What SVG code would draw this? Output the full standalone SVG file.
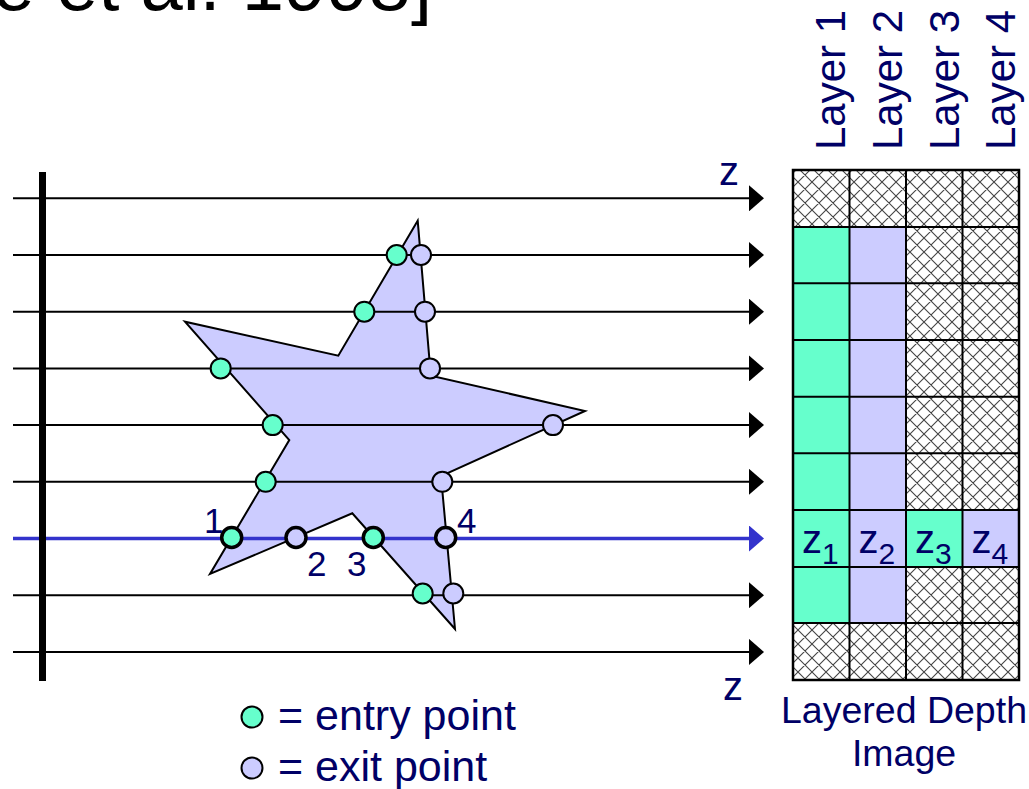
<svg xmlns="http://www.w3.org/2000/svg" width="1029" height="789" viewBox="0 0 1029 789">
  <style>
    .lbl { font-family: "Liberation Sans", Arial, sans-serif; fill: #000066; }
    .ray { stroke: #000; stroke-width: 2; fill: none; }
    .ray-blue { stroke: #3333CC; stroke-width: 3.5; fill: none; }
    .entry { fill: #66FFCC; stroke: #000; stroke-width: 2; }
    .exit { fill: #CCCCFF; stroke: #000; stroke-width: 2; }
    .hit { stroke-width: 3.5; }
    .c-entry { fill: #66FFCC; }
    .c-exit { fill: #CCCCFF; }
    .c-empty { fill: url(#hatch); }
    .gridline { stroke: #000; stroke-width: 2; fill: none; }
  </style>
  <defs>
    <pattern id="hatch" patternUnits="userSpaceOnUse" width="14" height="14">
      <rect width="14" height="14" fill="#fff"/>
      <path d="M0 0L14 14M14 0L0 14M-1 1L1 -1M13 15L15 13M-1 13L1 15M13 -1L15 1" stroke="#444" stroke-width="1.1"/>
    </pattern>
    <marker id="arrow" markerUnits="userSpaceOnUse" markerWidth="16" markerHeight="26" refX="1" refY="13" orient="auto">
      <path d="M0 0L15 13L0 26Z" fill="#000"/>
    </marker>
    <marker id="arrow-blue" markerUnits="userSpaceOnUse" markerWidth="16" markerHeight="26" refX="1" refY="13" orient="auto">
      <path d="M0 0L15 13L0 26Z" fill="#3333CC"/>
    </marker>
  </defs>
  <rect width="1029" height="789" fill="#fff"/>

  <!-- title, running off the left edge -->
  <text id="title" x="432" y="10" text-anchor="end" font-family="Liberation Sans, Arial, sans-serif" font-size="76" fill="#000">[Shade et al. 1998]</text>

  <!-- object being sampled -->
  <g id="star">
    <polygon points="417.7,220.7 430.8,375.7 585,411 441,476 455,629 352.3,513.3 210,574 289.3,440 185,321.7 338.3,355.7" fill="#CCCCFF" stroke="#000" stroke-width="2" stroke-linejoin="miter"/>
  </g>

  <!-- viewing rays -->
  <g id="rays">
    <line class="ray" x1="13" y1="198.3" x2="750" y2="198.3" marker-end="url(#arrow)"/>
    <line class="ray" x1="13" y1="255" x2="750" y2="255" marker-end="url(#arrow)"/>
    <line class="ray" x1="13" y1="311.7" x2="750" y2="311.7" marker-end="url(#arrow)"/>
    <line class="ray" x1="13" y1="368.4" x2="750" y2="368.4" marker-end="url(#arrow)"/>
    <line class="ray" x1="13" y1="425.1" x2="750" y2="425.1" marker-end="url(#arrow)"/>
    <line class="ray" x1="13" y1="481.8" x2="750" y2="481.8" marker-end="url(#arrow)"/>
    <line class="ray-blue" x1="13" y1="538.5" x2="750" y2="538.5" marker-end="url(#arrow-blue)"/>
    <line class="ray" x1="13" y1="595.2" x2="750" y2="595.2" marker-end="url(#arrow)"/>
    <line class="ray" x1="13" y1="651.9" x2="750" y2="651.9" marker-end="url(#arrow)"/>
  </g>

  <!-- image plane -->
  <g id="image-plane">
    <rect x="39" y="172" width="7" height="509" fill="#000"/>
  </g>

  <!-- surface crossings -->
  <g id="crossings">
    <circle class="entry" cx="396.7" cy="255" r="10"/>
    <circle class="exit" cx="421" cy="255" r="10"/>
    <circle class="entry" cx="364.3" cy="311.7" r="10"/>
    <circle class="exit" cx="425" cy="311.7" r="10"/>
    <circle class="entry" cx="220.7" cy="368.4" r="10"/>
    <circle class="exit" cx="430" cy="368.4" r="10"/>
    <circle class="entry" cx="272.7" cy="425.1" r="10"/>
    <circle class="exit" cx="553" cy="425.1" r="10"/>
    <circle class="entry" cx="265.7" cy="481.8" r="10"/>
    <circle class="exit" cx="442.3" cy="481.8" r="10"/>
    <circle class="entry hit" cx="231.7" cy="537.5" r="10"/>
    <circle class="exit hit" cx="296" cy="537.5" r="10"/>
    <circle class="entry hit" cx="373.3" cy="537.5" r="10"/>
    <circle class="exit hit" cx="445.7" cy="537.5" r="10"/>
    <circle class="entry" cx="422.7" cy="593.5" r="10"/>
    <circle class="exit" cx="453.3" cy="593.5" r="10"/>
  </g>

  <g id="hit-numbers" class="lbl" font-size="35">
    <text x="204" y="533">1</text>
    <text x="307" y="576">2</text>
    <text x="347" y="576">3</text>
    <text x="457" y="533">4</text>
  </g>

  <g id="z-axis-labels" class="lbl" font-size="40">
    <text x="719" y="185">z</text>
    <text x="723" y="700">z</text>
  </g>

  <!-- layered depth image -->
  <g id="ldi">
    <g id="ldi-cells">
      <rect class="c-empty" x="793" y="170" width="226" height="57"/>
      <rect class="c-entry" x="793" y="227" width="56.5" height="396"/>
      <rect class="c-exit" x="849.5" y="227" width="56.5" height="396"/>
      <rect class="c-empty" x="906" y="227" width="113" height="283"/>
      <rect class="c-entry" x="906" y="510" width="56.5" height="57"/>
      <rect class="c-exit" x="962.5" y="510" width="56.5" height="57"/>
      <rect class="c-empty" x="906" y="567" width="113" height="56"/>
      <rect class="c-empty" x="793" y="623" width="226" height="57"/>
    </g>
    <path class="gridline" d="M849.5 170V680M906 170V680M962.5 170V680M793 227H1019M793 283.3H1019M793 340H1019M793 396.7H1019M793 453.3H1019M793 510H1019M793 567H1019M793 623H1019"/>
    <rect x="793" y="170" width="226" height="510" fill="none" stroke="#000" stroke-width="2.5"/>
    <g id="ldi-depths" class="lbl" font-size="40">
      <text x="802" y="553">z<tspan font-size="30" dy="11">1</tspan></text>
      <text x="858.5" y="553">z<tspan font-size="30" dy="11">2</tspan></text>
      <text x="915" y="553">z<tspan font-size="30" dy="11">3</tspan></text>
      <text x="971.5" y="553">z<tspan font-size="30" dy="11">4</tspan></text>
    </g>
  </g>

  <g id="layer-labels" class="lbl" font-size="42">
    <text transform="translate(845,150) rotate(-90)">Layer 1</text>
    <text transform="translate(902,150) rotate(-90)">Layer 2</text>
    <text transform="translate(958.5,150) rotate(-90)">Layer 3</text>
    <text transform="translate(1015,150) rotate(-90)">Layer 4</text>
  </g>

  <g id="ldi-caption" class="lbl" font-size="37.5" text-anchor="middle">
    <text x="904" y="723">Layered Depth</text>
    <text x="904" y="766">Image</text>
  </g>

  <!-- legend -->
  <g id="legend">
    <circle class="entry" cx="252" cy="717" r="10.5"/>
    <text class="lbl" x="278" y="730" font-size="43">= entry point</text>
    <circle class="exit" cx="252" cy="768" r="10.5"/>
    <text class="lbl" x="278" y="781" font-size="43">= exit point</text>
  </g>
</svg>
